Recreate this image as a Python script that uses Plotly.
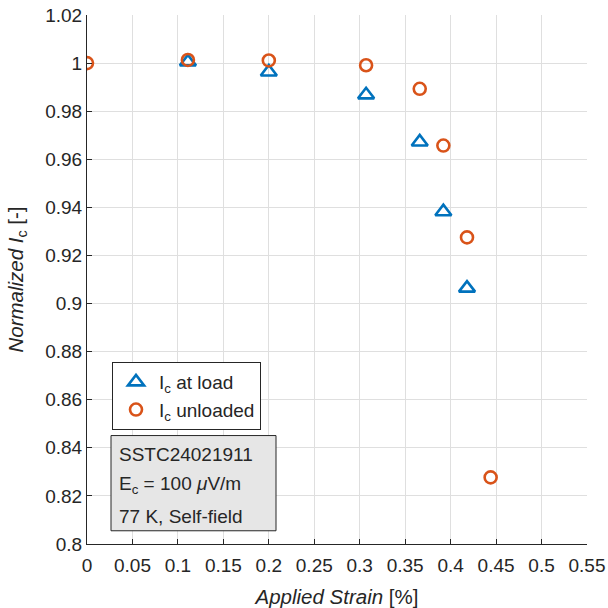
import plotly.graph_objects as go

strain_load = [0.111, 0.200, 0.307, 0.366, 0.392, 0.418]
ic_load = [1.0005, 0.9963, 0.9868, 0.9672, 0.9382, 0.9064]

strain_unl = [0.0, 0.111, 0.200, 0.307, 0.366, 0.392, 0.418, 0.444]
ic_unl = [1.0, 1.0013, 1.0011, 0.9991, 0.9893, 0.9657, 0.9275, 0.8277]

x_ticks = [0, 0.05, 0.1, 0.15, 0.2, 0.25, 0.3, 0.35, 0.4, 0.45, 0.5, 0.55]
x_labels = ["0", "0.05", "0.1", "0.15", "0.2", "0.25", "0.3", "0.35", "0.4", "0.45", "0.5", "0.55"]
y_ticks = [0.8, 0.82, 0.84, 0.86, 0.88, 0.9, 0.92, 0.94, 0.96, 0.98, 1.0, 1.02]
y_labels = ["0.8", "0.82", "0.84", "0.86", "0.88", "0.9", "0.92", "0.94", "0.96", "0.98", "1", "1.02"]

info_lines = ["SSTC24021911", "E<sub>c</sub> = 100 <i>μ</i>V/m", "77 K, Self-field"]

FONT = "Liberation Sans, Arial, sans-serif"
TXT = "#262626"

fig = go.Figure()
fig.add_trace(go.Scatter(
    x=strain_load, y=ic_load, mode="markers", name="I<sub>c</sub> at load",
    marker=dict(symbol="triangle-up-open", size=14, color="#0072BD",
                line=dict(width=2.6, color="#0072BD"))))
fig.add_trace(go.Scatter(
    x=strain_unl, y=ic_unl, mode="markers", name="I<sub>c</sub> unloaded",
    marker=dict(symbol="circle-open", size=12, color="#D95319",
                line=dict(width=2.6, color="#D95319"))))

axis_common = dict(showgrid=True, gridcolor="#dfdfdf", gridwidth=1,
                   showline=True, linecolor=TXT, linewidth=1,
                   ticks="inside", ticklen=5, tickcolor=TXT,
                   tickfont=dict(size=19, color=TXT, family=FONT),
                   ticklabeloverflow="allow",
                   zeroline=False, mirror=False, automargin=False)

fig.update_xaxes(range=[0, 0.55], tickvals=x_ticks, ticktext=x_labels,
                 ticklabelstandoff=4,
                 title=dict(text="<i>Applied Strain</i> [%]", font=dict(size=20.5, color=TXT, family=FONT), standoff=14),
                 **axis_common)
fig.update_yaxes(range=[0.8, 1.02], tickvals=y_ticks, ticktext=y_labels,
                 title=dict(text="<i>Normalized I</i><sub>c</sub> [-]", font=dict(size=20.5, color=TXT, family=FONT), standoff=16),
                 **axis_common)

fig.add_shape(type="rect", xref="paper", yref="paper",
              x0=0.048, x1=0.378, y0=0.025, y1=0.205,
              fillcolor="#e6e6e6", line=dict(color=TXT, width=1), layer="above")
for i, line in enumerate(info_lines):
    fig.add_annotation(xref="paper", yref="paper", x=0.060, y=0.170 - i * 0.059,
                       xanchor="left", yanchor="middle", text=line,
                       showarrow=False, align="left",
                       font=dict(size=19, color=TXT, family=FONT))

fig.update_layout(
    width=608, height=608,
    margin=dict(l=87, r=21, t=15, b=64),
    paper_bgcolor="white", plot_bgcolor="white",
    font=dict(family=FONT, color=TXT),
    legend=dict(x=0.05, y=0.344, xanchor="left", yanchor="top",
                bgcolor="white", bordercolor=TXT, borderwidth=1,
                font=dict(size=19, color=TXT, family=FONT),
                itemwidth=36, tracegroupgap=6),
    showlegend=True,
)

fig.write_html("out.html",
               config={"displayModeBar": False},
               post_script="document.body.style.margin='0px';document.body.style.overflow='hidden';")
